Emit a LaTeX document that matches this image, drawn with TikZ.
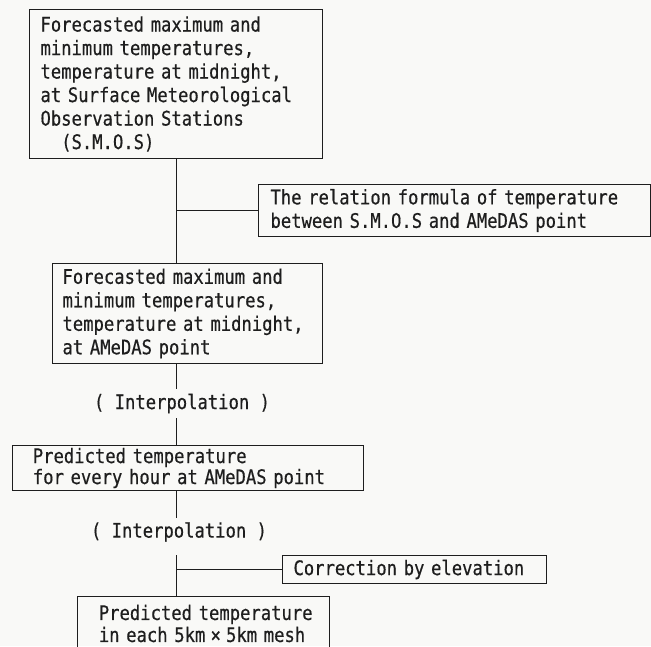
\documentclass[tikz,border=0pt]{standalone}
\usepackage{fontspec}
\newfontfamily\jpmono[FakeStretch=0.86, FakeBold=0.5]{DejaVu Sans Mono}
\usetikzlibrary{positioning}
\definecolor{ink}{RGB}{30, 30, 30}
\definecolor{paper}{RGB}{249, 249, 247}

\begin{document}
\begin{tikzpicture}[
    x=1pt, y=-1pt,
    wire/.style={draw=ink, line width=0.8pt},
    flowbox/.style={draw=ink, line width=1pt, anchor=north west, align=left,
        inner ysep=0pt, text=ink, font=\jpmono\fontsize{20}{23.5}\selectfont},
    note/.style={text=ink, inner sep=0pt, font=\jpmono\fontsize{20}{23.5}\selectfont},
]

% ===== page =====
\fill[paper] (0,0) rectangle (651,646);
\useasboundingbox (0,0) rectangle (651,646);

\coordinate (trunk) at (176,0);

% ===== boxes =====
\node[flowbox, minimum width=293pt, minimum height=149pt,
      text width=271pt, inner xsep=11pt] (smos) at (29,9)
    {Forecasted maximum and\\
     minimum temperatures,\\
     temperature at midnight,\\
     at Surface Meteorological\\
     Observation Stations\\
     \hphantom{xx}(S.M.O.S)};

\node[flowbox, minimum width=392pt, minimum height=52pt,
      text width=368pt, inner xsep=12pt] (relation) at (258,184)
    {The relation formula of temperature\\
     between S.M.O.S and AMeDAS point};

\node[flowbox, minimum width=270pt, minimum height=100pt,
      text width=250pt, inner xsep=10pt] (amedas) at (52,263)
    {Forecasted maximum and\\
     minimum temperatures,\\
     temperature at midnight,\\
     at AMeDAS point};

\node[flowbox, minimum width=351pt, minimum height=45pt,
      text width=331pt, inner xsep=10pt,
      font=\jpmono\fontsize{20}{21}\selectfont] (hourly) at (12,445)
    {\hphantom{x}Predicted temperature\\
     \hphantom{x}for every hour at AMeDAS point};

\node[flowbox, minimum width=264pt, minimum height=28pt,
      text width=242pt, inner xsep=11pt] (elev) at (282,555)
    {Correction by elevation};

\node[flowbox, minimum width=252pt, minimum height=54pt,
      text width=230pt, inner xsep=11pt,
      font=\jpmono\fontsize{20}{22}\selectfont] (mesh) at (77,596)
    {\hphantom{x}Predicted temperature\\
     \hphantom{x}in each 5km\hbox to 2\fontcharwd\font`x{\hss×\hss}5km mesh};

% ===== interpolation labels =====
\node[note, minimum height=29pt] (interpA) at (182,403.5) {( Interpolation )};
\node[note, minimum height=28pt] (interpB) at (179,532) {( Interpolation )};

% ===== connectors =====
\draw[wire] (smos.south -| trunk) -- (amedas.north -| trunk);
\draw[wire] (relation.west) -- (relation.west -| trunk);
\draw[wire] (amedas.south -| trunk) -- (interpA.north -| trunk);
\draw[wire] (interpA.south -| trunk) -- (hourly.north -| trunk);
\draw[wire] (hourly.south -| trunk) -- (interpB.north -| trunk);
\draw[wire] (elev.north -| trunk) -- (mesh.north -| trunk);
\draw[wire] (elev.west) -- (elev.west -| trunk);

\end{tikzpicture}
\end{document}
